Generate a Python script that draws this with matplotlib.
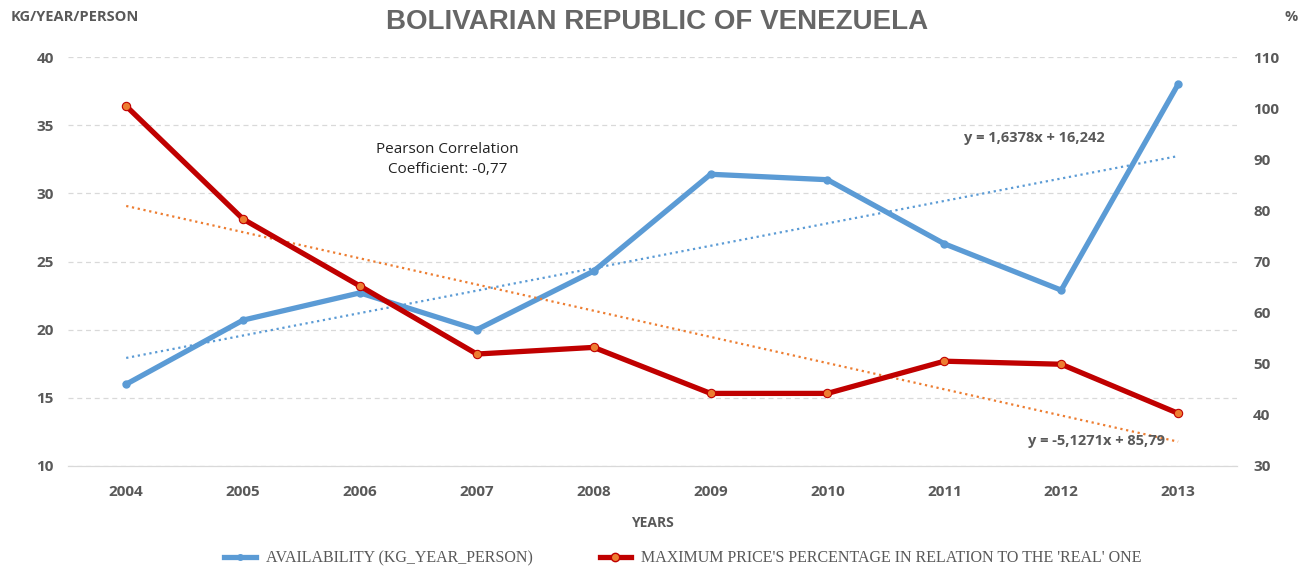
import matplotlib.pyplot as plt
from matplotlib.lines import Line2D
import numpy as np

years = [2004, 2005, 2006, 2007, 2008, 2009, 2010, 2011, 2012, 2013]
availability = [16.0, 20.7, 22.7, 20.0, 24.3, 31.4, 31.0, 26.3, 22.9, 38.0]
price_pct = [100.4, 78.3, 65.2, 51.9, 53.2, 44.2, 44.2, 50.5, 49.9, 40.3]

BLUE = '#5B9BD5'
RED = '#C00000'
ORANGE = '#ED7D31'
GRAY = '#595959'

plt.rcParams['font.family'] = ['Open Sans', 'DejaVu Sans']

fig = plt.figure(figsize=(13.03, 5.68), dpi=100)
ax = fig.add_axes([0.052, 0.1796, 0.897, 0.72])
ax2 = ax.twinx()

x = np.arange(1, len(years) + 1)

# trend lines (linear fits)
c1 = np.polyfit(x, availability, 1)
c2 = np.polyfit(x, price_pct, 1)
ax.plot(x, np.polyval(c1, x), ':', color=BLUE, lw=1.6, zorder=2)
ax2.plot(x, np.polyval(c2, x), ':', color=ORANGE, lw=1.6, zorder=2)

ax.plot(x, availability, '-o', color=BLUE, lw=3.8, ms=5, zorder=3)
ax2.plot(x, price_pct, '-o', color=RED, lw=3.8, ms=6, mfc=ORANGE,
         mec=RED, mew=0.8, zorder=3)

ax.set_xlim(0.5, 10.5)
ax.set_ylim(10, 40)
ax2.set_ylim(30, 110)
ax.set_yticks(range(10, 41, 5))
ax2.set_yticks(range(30, 111, 10))
ax.set_xticks(x)
ax.set_xticklabels([str(y) for y in years])

ax.grid(axis='y', color='#d9d9d9', ls=(0, (4, 3)), lw=0.9)
ax.set_axisbelow(True)
for a in (ax, ax2):
    for s in ('top', 'right', 'left'):
        a.spines[s].set_visible(False)
    a.spines['bottom'].set_color('#d9d9d9')
    a.tick_params(length=0, labelsize=11, labelcolor=GRAY)
    for lab in a.get_yticklabels() + a.get_xticklabels():
        lab.set_fontweight('bold')
ax.tick_params(axis='y', pad=10)
ax2.tick_params(axis='y', pad=12)
ax.tick_params(axis='x', pad=14)

ax.set_xlabel('YEARS', fontsize=10, fontweight='bold', color=GRAY, labelpad=12)

fig.text(0.008, 0.97, 'KG/YEAR/PERSON', fontsize=10.5, fontweight='bold',
         color=GRAY, va='center')
fig.text(0.996, 0.97, '%', fontsize=10.5, fontweight='bold', color=GRAY,
         va='center', ha='right')
fig.text(0.5045, 0.962, 'BOLIVARIAN REPUBLIC OF VENEZUELA', fontsize=20,
         fontweight='bold', color='#666666', ha='center', va='center',
         family=['Liberation Sans', 'DejaVu Sans'])

ax.text(3.75, 32.5, 'Pearson Correlation\nCoefficient: -0,77', fontsize=11,
        ha='center', va='center', color='#222222', linespacing=1.45)
ax.text(8.77, 34.06, 'y = 1,6378x + 16,242', fontsize=10.5, fontweight='bold',
        color=GRAY, ha='center', va='center')
ax2.text(9.3, 34.9, 'y = -5,1271x + 85,79', fontsize=10.5, fontweight='bold',
         color=GRAY, ha='center', va='center')

handles = [
    Line2D([], [], color=BLUE, lw=3.8, marker='o', ms=4),
    Line2D([], [], color=RED, lw=3.8, marker='o', ms=6, mfc=ORANGE, mec=RED),
]
labels = ["AVAILABILITY (KG_YEAR_PERSON)",
          "MAXIMUM PRICE'S PERCENTAGE IN RELATION TO THE 'REAL' ONE"]
fig.legend(handles, labels, loc='center', bbox_to_anchor=(0.524, 0.017),
           ncol=2, frameon=False, handlelength=2.0, handletextpad=0.6,
           columnspacing=4.2,
           prop={'family': 'Liberation Serif', 'size': 11.5},
           labelcolor=GRAY)

fig.savefig('out.png', dpi=100)
